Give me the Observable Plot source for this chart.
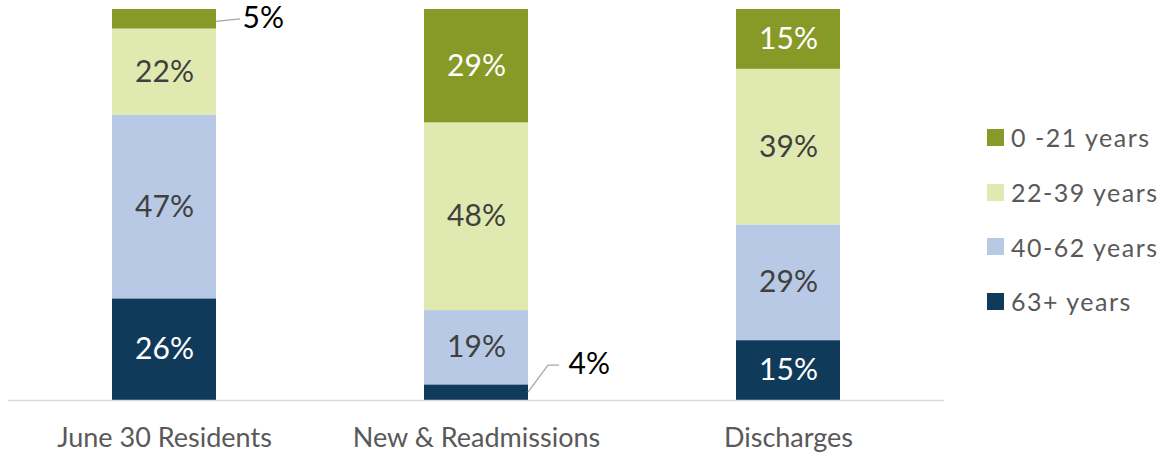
<!DOCTYPE html>
<html>
<head>
<meta charset="utf-8">
<script src="https://cdn.jsdelivr.net/npm/d3@7"></script>
<script src="https://cdn.jsdelivr.net/npm/@observablehq/plot@0.6"></script>
<style>
  html, body { margin: 0; padding: 0; background: #fff; }
  #wrap { position: relative; width: 1164px; height: 458px; font-family: Lato, "Open Sans", sans-serif; }
  #legend { position: absolute; left: 987px; top: 110px; }
  .item { display: flex; align-items: center; height: 54.7px; font-size: 25px; color: #595959; letter-spacing: 1.5px; white-space: nowrap; }
  .sw { width: 17px; height: 17px; margin-right: 7px; flex: none; }
</style>
</head>
<body>
<div id="wrap"></div>
<script>
// Data
const categories = ["June 30 Residents", "New & Readmissions", "Discharges"];
// stack order, bottom to top
const ageGroups = ["63+ years", "40-62 years", "22-39 years", "0 -21 years"];
const pct63plus = [26, 4, 15];
const pct40to62 = [47, 19, 29];
const pct22to39 = [22, 48, 39];
const pct0to21 = [5, 29, 15];
const groupColors = ["#0f3a5a", "#b8c9e6", "#e0eab0", "#879a28"];
const legendOrder = ["0 -21 years", "22-39 years", "40-62 years", "63+ years"];

const seriesValues = [pct63plus, pct40to62, pct22to39, pct0to21];
const rows = [];
ageGroups.forEach((g, gi) => {
  categories.forEach((c, ci) => {
    rows.push({cat: c, group: g, value: seriesValues[gi][ci]});
  });
});

const darkGroups = new Set(["63+ years", "0 -21 years"]);
const stackOpts = {x: "cat", y: "value", z: "group", offset: "normalize"};

const plot = Plot.plot({
  width: 1164,
  height: 458,
  marginLeft: 8,
  marginRight: 220,
  marginTop: 9,
  marginBottom: 58,
  style: {fontFamily: "Lato, 'Open Sans', sans-serif", background: "#fff", overflow: "visible"},
  x: {domain: categories, paddingInner: 2/3, paddingOuter: 1/3, label: null, axis: null},
  y: {axis: null, domain: [0, 1]},
  color: {domain: ageGroups, range: groupColors},
  marks: [
    Plot.barY(rows, Plot.stackY({...stackOpts, fill: "group"})),
    Plot.ruleY([0], {stroke: "#d9d9d9", strokeWidth: 1.5}),
    Plot.axisX({tickSize: 0, tickPadding: 27, fontSize: 27, fill: "#595959", label: null, letterSpacing: 0.9}),
    Plot.text(rows, Plot.stackY({...stackOpts,
      text: d => (d.value >= 10 && darkGroups.has(d.group)) ? d.value + "%" : "",
      fill: "#ffffff", fontSize: 30})),
    Plot.text(rows, Plot.stackY({...stackOpts,
      text: d => (d.value >= 10 && !darkGroups.has(d.group)) ? d.value + "%" : "",
      fill: "#404040", fontSize: 30})),
    Plot.text(rows, Plot.stackY({...stackOpts,
      text: d => (d.cat === "June 30 Residents" && d.value < 10) ? d.value + "%" : "",
      fill: "#000", fontSize: 30, textAnchor: "start", dx: 78, dy: -1})),
    Plot.text(rows, Plot.stackY({...stackOpts,
      text: d => (d.cat === "New & Readmissions" && d.value < 10) ? d.value + "%" : "",
      fill: "#000", fontSize: 30, textAnchor: "start", dx: 92, dy: -28}))
  ]
});

// Leader lines, placed through the plot's own scales
const sx = plot.scale("x");
const sy = plot.scale("y");
const svg = d3.select(plot);
const totals = categories.map((c, ci) => seriesValues.reduce((s, arr) => s + arr[ci], 0));
// June 30 Residents: top segment (0 -21 years)
{
  const ci = 0;
  const right = sx.apply(categories[ci]) + sx.bandwidth;
  const mid = sy.apply(1 - (pct0to21[ci] / 2) / totals[ci]);
  svg.append("path").attr("d", `M${right},${mid + 2.5}L${right + 24},${mid}`)
    .attr("fill", "none").attr("stroke", "#a6a6a6").attr("stroke-width", 1.3);
}
// New & Readmissions: bottom segment (63+ years)
{
  const ci = 1;
  const right = sx.apply(categories[ci]) + sx.bandwidth;
  const mid = sy.apply((pct63plus[ci] / 2) / totals[ci]);
  svg.append("path").attr("d", `M${right},${mid}L${right + 20},${mid - 27}L${right + 31},${mid - 27}`)
    .attr("fill", "none").attr("stroke", "#a6a6a6").attr("stroke-width", 1.3);
}

const wrap = document.getElementById("wrap");
wrap.appendChild(plot);

// Legend
const legend = document.createElement("div");
legend.id = "legend";
legendOrder.forEach(g => {
  const item = document.createElement("div");
  item.className = "item";
  const sw = document.createElement("span");
  sw.className = "sw";
  sw.style.background = groupColors[ageGroups.indexOf(g)];
  const lab = document.createElement("span");
  lab.textContent = g;
  item.appendChild(sw);
  item.appendChild(lab);
  legend.appendChild(item);
});
wrap.appendChild(legend);
</script>
</body>
</html>
